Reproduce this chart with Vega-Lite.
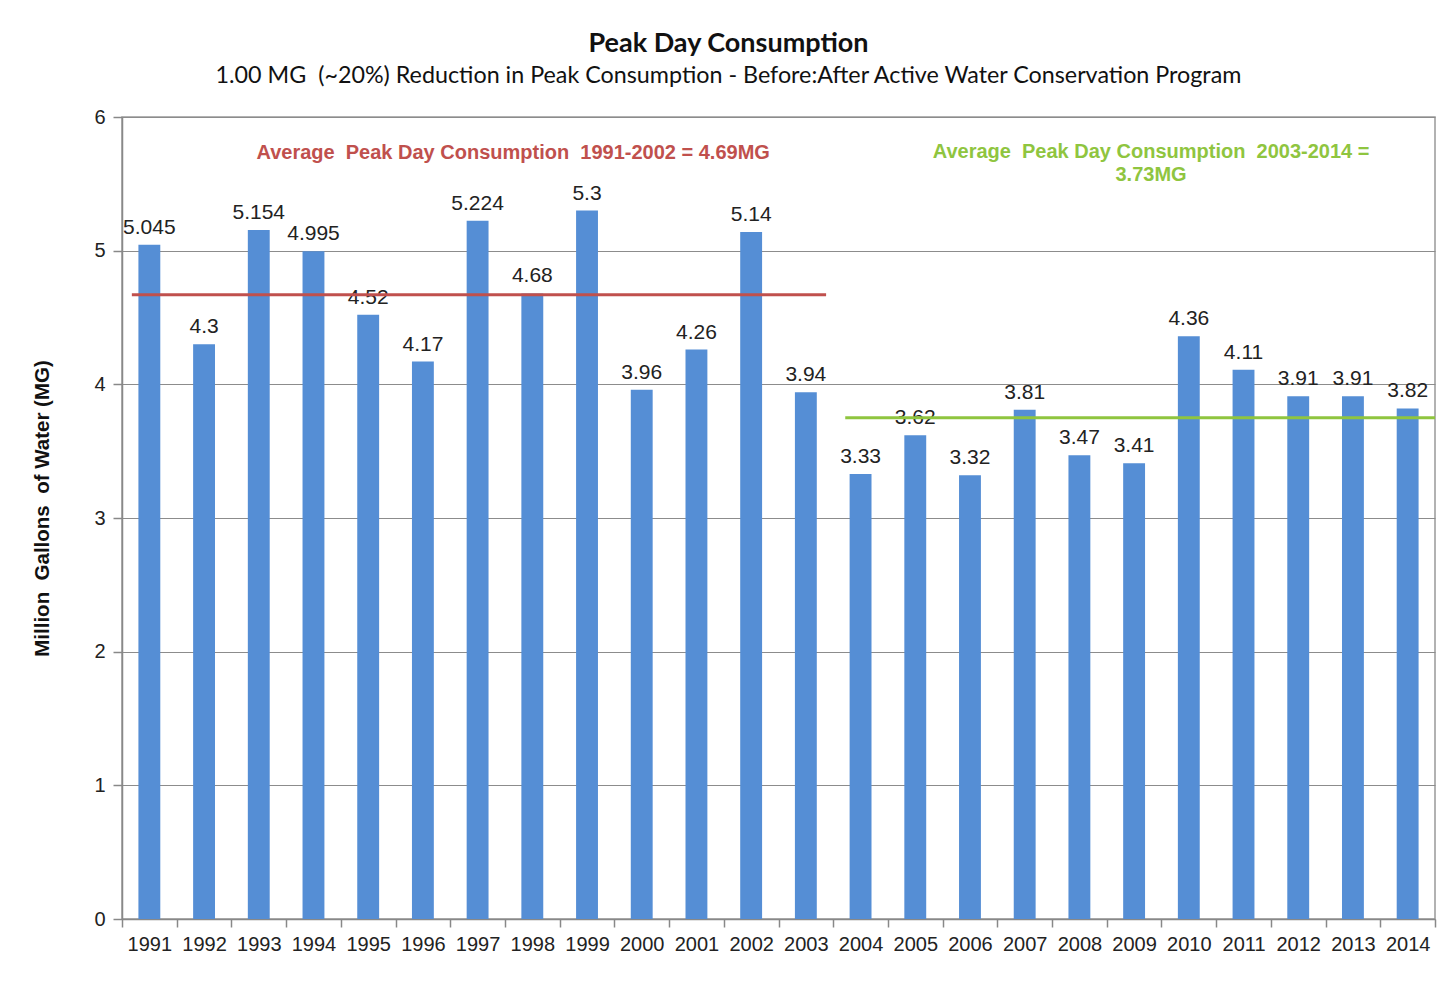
{
  "$schema": "https://vega.github.io/schema/vega-lite/v6.json",
  "autosize": {"type": "none"},
  "padding": {"left": 122, "top": 117, "right": 2, "bottom": 62},
  "width": 1313,
  "height": 802,
  "background": "white",
  "title": {
    "text": "Peak Day Consumption",
    "subtitle": "1.00 MG\u00a0 (~20%) Reduction in Peak Consumption - Before:After Active Water Conservation Program",
    "anchor": "middle",
    "dx": -50,
    "offset": 19,
    "font": "Lato",
    "fontSize": 27,
    "fontWeight": "bold",
    "color": "#111",
    "subtitleFont": "Lato",
    "subtitleFontSize": 23.3,
    "subtitleColor": "#111",
    "subtitlePadding": 7
  },
  "config": {
    "font": "Liberation Sans",
    "view": {"stroke": "#999", "strokeWidth": 1.5},
    "axis": {
      "labelFont": "Liberation Sans",
      "labelFontSize": 20,
      "labelColor": "#222",
      "domainColor": "#888",
      "domainWidth": 1.5,
      "tickColor": "#888",
      "tickWidth": 1.5
    }
  },
  "datasets": {
    "peak": [
      {"year": "1991", "mg": 5.045, "label": "5.045"},
      {"year": "1992", "mg": 4.3, "label": "4.3"},
      {"year": "1993", "mg": 5.154, "label": "5.154"},
      {"year": "1994", "mg": 4.995, "label": "4.995"},
      {"year": "1995", "mg": 4.52, "label": "4.52"},
      {"year": "1996", "mg": 4.17, "label": "4.17"},
      {"year": "1997", "mg": 5.224, "label": "5.224"},
      {"year": "1998", "mg": 4.68, "label": "4.68"},
      {"year": "1999", "mg": 5.3, "label": "5.3"},
      {"year": "2000", "mg": 3.96, "label": "3.96"},
      {"year": "2001", "mg": 4.26, "label": "4.26"},
      {"year": "2002", "mg": 5.14, "label": "5.14"},
      {"year": "2003", "mg": 3.94, "label": "3.94"},
      {"year": "2004", "mg": 3.33, "label": "3.33"},
      {"year": "2005", "mg": 3.62, "label": "3.62"},
      {"year": "2006", "mg": 3.32, "label": "3.32"},
      {"year": "2007", "mg": 3.81, "label": "3.81"},
      {"year": "2008", "mg": 3.47, "label": "3.47"},
      {"year": "2009", "mg": 3.41, "label": "3.41"},
      {"year": "2010", "mg": 4.36, "label": "4.36"},
      {"year": "2011", "mg": 4.11, "label": "4.11"},
      {"year": "2012", "mg": 3.91, "label": "3.91"},
      {"year": "2013", "mg": 3.91, "label": "3.91"},
      {"year": "2014", "mg": 3.82, "label": "3.82"}
    ]
  },
  "layer": [
    {
      "data": {"name": "peak"},
      "mark": {"type": "bar", "color": "#558ED5", "width": {"band": 0.4}},
      "encoding": {
        "x": {
          "field": "year", "type": "ordinal",
          "scale": {"paddingInner": 0, "paddingOuter": 0},
          "axis": {"title": null, "labelAngle": 0, "tickBand": "extent", "tickSize": 8, "labelPadding": 7, "grid": false}
        },
        "y": {
          "field": "mg", "type": "quantitative",
          "scale": {"domain": [0, 6], "nice": false},
          "axis": {
            "title": "Million\u00a0 Gallons\u00a0 of Water (MG)",
            "titleFont": "Liberation Sans", "titleFontSize": 20.5, "titleFontWeight": "bold", "titleColor": "#111",
            "titlePadding": 41,
            "titleY": 391,
            "values": [0, 1, 2, 3, 4, 5, 6],
            "format": "d",
            "grid": true, "gridColor": "#8c8c8c", "gridWidth": 1,
            "tickSize": 9, "labelPadding": 8
          }
        }
      }
    },
    {
      "data": {"name": "peak"},
      "mark": {"type": "text", "fontSize": 21, "color": "#222", "baseline": "alphabetic", "dy": -11},
      "encoding": {
        "x": {"field": "year", "type": "ordinal"},
        "y": {"field": "mg", "type": "quantitative"},
        "text": {"field": "label"}
      }
    },
    {
      "data": {"values": [{"from": "1991", "to": "2003", "avg": 4.67}]},
      "mark": {"type": "rule", "color": "#C0504D", "strokeWidth": 3},
      "encoding": {
        "x": {"field": "from", "type": "ordinal", "bandPosition": 0.18},
        "x2": {"field": "to", "bandPosition": 0.87},
        "y": {"field": "avg", "type": "quantitative"}
      }
    },
    {
      "data": {"values": [{"from": "2004", "to": "2014", "avg": 3.75}]},
      "mark": {"type": "rule", "color": "#8FC53F", "strokeWidth": 3},
      "encoding": {
        "x": {"field": "from", "type": "ordinal", "bandPosition": 0.22},
        "x2": {"field": "to", "bandPosition": 1},
        "y": {"field": "avg", "type": "quantitative"}
      }
    },
    {
      "data": {"values": [{"at": "1998", "ypos": 5.73, "note": "Average\u00a0 Peak Day Consumption\u00a0 1991-2002 = 4.69MG"}]},
      "mark": {"type": "text", "fontSize": 20, "fontWeight": "bold", "color": "#C0504D", "align": "center", "baseline": "middle"},
      "encoding": {
        "x": {"field": "at", "type": "ordinal", "bandPosition": 0.15},
        "y": {"field": "ypos", "type": "quantitative"},
        "text": {"field": "note"}
      }
    },
    {
      "data": {"values": [{"at": "2009", "ypos": 5.81, "note": "Average\u00a0 Peak Day Consumption\u00a0 2003-2014 =\n3.73MG"}]},
      "mark": {"type": "text", "fontSize": 20, "fontWeight": "bold", "color": "#8FC53F", "align": "center", "baseline": "top", "lineBreak": "\n", "lineHeight": 23},
      "encoding": {
        "x": {"field": "at", "type": "ordinal", "bandPosition": 0.81},
        "y": {"field": "ypos", "type": "quantitative"},
        "text": {"field": "note"}
      }
    }
  ]
}
